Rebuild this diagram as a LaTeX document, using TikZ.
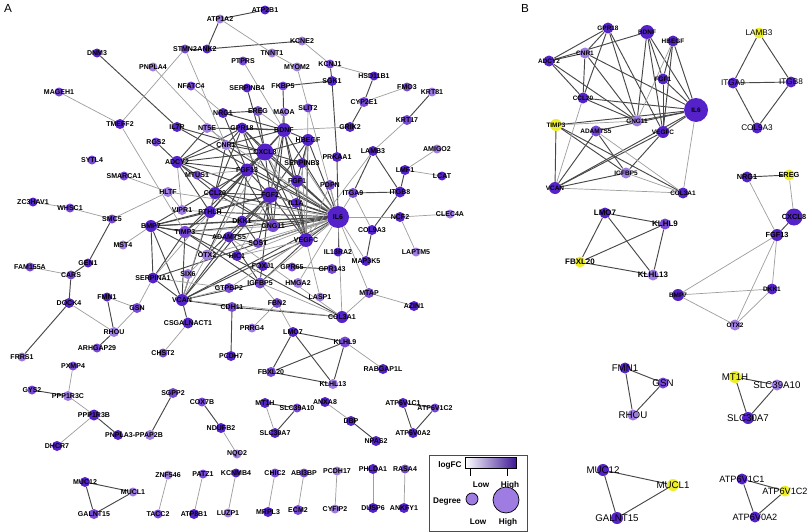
\documentclass[tikz,border=0pt]{standalone}
\usepackage{fontspec}
\setmainfont{Liberation Sans}

\definecolor{degdark}{RGB}{84,34,200}
\definecolor{degmid}{RGB}{118,72,212}
\definecolor{deglight}{RGB}{158,124,226}
\definecolor{upyellow}{RGB}{238,238,40}
\definecolor{edgedark}{RGB}{72,72,72}
\definecolor{edgelight}{RGB}{158,158,158}

\pgfdeclarelayer{paper}
\pgfdeclarelayer{edgelayer}
\pgfdeclarelayer{front}
\pgfsetlayers{paper,edgelayer,main,front}

\tikzset{
  gnode/.style={circle, inner sep=0pt, draw=none},
  labA/.style={font=\bfseries\fontsize{6}{6}\selectfont, inner sep=0pt},
  labcore/.style={font=\bfseries\fontsize{5.5}{5.5}\selectfont, inner sep=0pt},
  labhub/.style={font=\bfseries\fontsize{6.3}{6.3}\selectfont, inner sep=0pt},
  labmid/.style={font=\bfseries\fontsize{6.8}{6.8}\selectfont, inner sep=0pt},
  labint/.style={font=\fontsize{7}{7}\selectfont, inner sep=0pt},
  labbig/.style={font=\fontsize{8.3}{8.3}\selectfont, inner sep=0pt},
  labatp/.style={font=\fontsize{7.8}{7.8}\selectfont, inner sep=0pt},
  hard/.style={draw=edgedark, line width=0.8pt},
  soft/.style={draw=edgelight, line width=0.6pt},
  legtext/.style={font=\bfseries\fontsize{7}{7}\selectfont, inner sep=0pt},
}

% one pixel of the reference
\newcommand{\pxu}{0.03cm}
% gene node: name, text, x, y, size (px), fill, label style
\newcommand{\gene}[7]{%
  \node[gnode, minimum size=#5*\pxu, fill=#6] (#1) at (#3,#4) {};
  \begin{pgfonlayer}{front}\node[#7] (#1-t) at (#1.center) {#2};\end{pgfonlayer}}
\newcommand{\gA}[5]{\gene{#1}{#1}{#2}{#3}{#4}{#5}{labA}}

\begin{document}
\begin{tikzpicture}[x=0.03cm, y=-0.03cm]
\begin{pgfonlayer}{paper}
  \fill[white] (0,0) rectangle (810,532);
\end{pgfonlayer}
\useasboundingbox (0,0) rectangle (810,532);

\node[font=\fontsize{10}{10}\selectfont] (panA) at (8,8) {A};
\node[font=\fontsize{10}{10}\selectfont] (panB) at (525,8) {B};

% ---- panel A ----
\gA{ATP2B1}{265}{10}{9}{degdark}
\gA{ATP1A2}{220}{19}{9}{deglight}
\gA{DNM3}{97}{53}{9}{degdark}
\gA{STMN2}{185}{49}{9}{degmid}
\gA{ANK2}{207}{49}{9}{degdark}
\gA{KCNE2}{302}{41}{9}{deglight}
\gA{TNNT1}{272}{53}{9}{deglight}
\gA{PTPRS}{243}{61}{9}{degmid}
\gA{MYOM2}{297}{67}{9}{deglight}
\gA{KCNJ1}{330}{64}{9}{degmid}
\gA{PNPLA4}{153}{67}{9}{deglight}
\gA{HSD11B1}{374}{76}{9}{degdark}
\gA{SGK1}{332}{81}{10}{degdark}
\gA{NFATC4}{191}{86}{9}{degmid}
\gA{SERPINB4}{247}{88}{9}{degdark}
\gA{FKBP5}{283}{86}{9}{degmid}
\gA{FMO3}{407}{87}{9}{degmid}
\gA{MAGEH1}{59}{92}{9}{degmid}
\gA{KRT81}{432}{92}{9}{deglight}
\gA{CYP2E1}{364}{102}{10}{degmid}
\gA{SLIT2}{308}{108}{9}{degmid}
\gA{EREG}{258}{111}{10}{degmid}
\gA{MAOA}{284}{112}{9}{deglight}
\gA{NRG1}{223}{113}{10}{degdark}
\gA{KRT17}{407}{120}{10}{degmid}
\gA{TMEFF2}{120}{124}{10}{degdark}
\gA{IL7R}{177}{127}{10}{degdark}
\gA{GRIK2}{350}{127}{10}{degdark}
\gA{NT5E}{207}{128}{10}{deglight}
\gA{GPR18}{242}{128}{11}{degdark}
\gA{BDNF}{284}{130}{14}{degdark}
\gA{HBEGF}{308}{140}{12}{degdark}
\gA{RGS2}{156}{142}{9}{degmid}
\gA{CNR1}{226}{145}{10}{deglight}
\gA{AMIGO2}{437}{149}{9}{deglight}
\gA{LAMB3}{373}{151}{10}{degdark}
\gA{CXCL8}{265}{152}{17}{degdark}
\gA{PRKAA1}{337}{157}{10}{degdark}
\gA{SYTL4}{92}{160}{9}{degmid}
\gA{ADCY2}{177}{162}{12}{degdark}
\gA{SERPINB3}{302}{163}{10}{degdark}
\gA{LMF1}{405}{170}{10}{degdark}
\gA{FGF13}{247}{170}{13}{degdark}
\gA{MTUS1}{197}{175}{9}{degmid}
\gA{SMARCA1}{124}{176}{9}{degmid}
\gA{LCAT}{442}{176}{9}{degdark}
\gA{FGF1}{297}{181}{12}{degdark}
\gA{PDPN}{330}{185}{10}{degmid}
\gA{HLTF}{168}{192}{10}{deglight}
\gA{ITGB8}{400}{192}{11}{degdark}
\gA{CCL20}{215}{193}{12}{degdark}
\gA{ITGA9}{353}{193}{10}{degmid}
\gA{FGF2}{270}{195}{16}{degdark}
\gA{ZC3HAV1}{33}{202}{9}{degdark}
\gA{IL1A}{296}{203}{10}{degdark}
\gA{WHSC1}{70}{208}{9}{degmid}
\gA{VIPR1}{182}{210}{10}{deglight}
\gA{PTHLH}{210}{212}{12}{degdark}
\gA{CLEC4A}{450}{214}{9}{deglight}
\gA{NCF2}{400}{217}{10}{degdark}
\gA{IL6}{338}{217}{22}{degdark}
\gA{SMC5}{112}{219}{9}{degmid}
\gA{DKK1}{242}{221}{11}{degdark}
\gA{BMP7}{151}{226}{12}{degdark}
\gA{GNG11}{273}{226}{12}{degmid}
\gA{COL9A3}{372}{230}{10}{degdark}
\gA{TIMP3}{185}{232}{12}{degmid}
\gA{ADAMTS5}{229}{237}{11}{degdark}
\gA{VEGFC}{306}{240}{14}{degdark}
\gA{SOST}{258}{243}{10}{degmid}
\gA{MST4}{123}{245}{9}{deglight}
\gA{IL13RA2}{338}{252}{9}{degdark}
\gA{LAPTM5}{416}{252}{9}{deglight}
\gA{OTX2}{207}{255}{11}{deglight}
\gA{HIC1}{237}{256}{10}{degdark}
\gA{MAP3K5}{366}{261}{10}{degdark}
\gA{GEN1}{88}{263}{9}{degdark}
\gA{FOXJ1}{263}{266}{10}{degdark}
\gA{FAM155A}{30}{267}{9}{degmid}
\gA{GPR65}{292}{267}{9}{degmid}
\gA{GPR143}{332}{269}{10}{degmid}
\gA{SIX6}{188}{274}{10}{deglight}
\gA{CARS}{71}{275}{9}{degmid}
\gA{SERPINA1}{153}{278}{11}{degdark}
\gA{IGFBP5}{260}{283}{11}{degmid}
\gA{HMGA2}{298}{283}{10}{deglight}
\gA{GTPBP2}{229}{288}{10}{degmid}
\gA{MTAP}{369}{293}{10}{degmid}
\gA{FMN1}{107}{297}{9}{degdark}
\gA{LASP1}{320}{297}{9}{deglight}
\gA{VCAN}{182}{300}{12}{degdark}
\gA{DOCK4}{69}{303}{10}{degdark}
\gA{FBN2}{277}{303}{10}{degmid}
\gA{AZIN1}{414}{306}{10}{degdark}
\gA{CDH11}{232}{307}{10}{degmid}
\gA{GSN}{137}{308}{10}{degmid}
\gA{COL3A1}{342}{317}{12}{degdark}
\gA{CSGALNACT1}{188}{323}{11}{degdark}
\gA{PRRG4}{252}{328}{9}{deglight}
\gA{RHOU}{114}{332}{10}{deglight}
\gA{LMO7}{293}{332}{10}{degdark}
\gA{KLHL9}{345}{342}{11}{degmid}
\gA{ARHGAP29}{97}{348}{9}{degmid}
\gA{CHST2}{163}{353}{9}{degmid}
\gA{PCDH7}{231}{356}{10}{degdark}
\gA{FRRS1}{22}{357}{9}{deglight}
\gA{PXMP4}{73}{366}{9}{degmid}
\gA{RABGAP1L}{383}{369}{10}{degdark}
\gA{FBXL20}{271}{372}{10}{degmid}
\gA{KLHL13}{333}{384}{10}{deglight}
\gA{GYS2}{32}{390}{9}{degmid}
\gA{SGPP2}{173}{393}{10}{degmid}
\gA{PPP1R3C}{68}{396}{10}{deglight}
\gA{COX7B}{202}{402}{9}{degmid}
\gA{ANXA8}{325}{402}{10}{degdark}
\gA{MT1H}{265}{403}{10}{degdark}
\gA{ATP6V1C1}{403}{403}{10}{degdark}
\gA{SLC39A10}{297}{408}{9}{degmid}
\gA{ATP6V1C2}{435}{408}{9}{degmid}
\gA{PPP1R3B}{94}{415}{11}{degdark}
\gA{DBP}{351}{421}{10}{degdark}
\gA{NDUFB2}{221}{428}{10}{degdark}
\gA{SLC30A7}{275}{433}{10}{degdark}
\gA{ATP6V0A2}{413}{433}{10}{degdark}
\gA{NPAS2}{376}{441}{10}{degdark}
\gA{DHCR7}{57}{446}{10}{degdark}
\gA{NQO2}{237}{454}{9}{deglight}
\gA{PHLDA1}{373}{469}{10}{degdark}
\gA{RASA4}{405}{469}{9}{degmid}
\gA{PCDH17}{337}{471}{9}{deglight}
\gA{KCNMB4}{236}{473}{9}{degdark}
\gA{CHIC2}{275}{473}{9}{degmid}
\gA{ABI3BP}{304}{473}{9}{degmid}
\gA{PATZ1}{203}{474}{9}{degmid}
\gA{ZNF546}{168}{475}{9}{deglight}
\gA{MUC12}{85}{482}{10}{degdark}
\gA{MUCL1}{133}{492}{9}{deglight}
\gA{CYFIP2}{335}{509}{9}{deglight}
\gA{DUSP6}{373}{508}{10}{degdark}
\gA{ANKFY1}{404}{508}{10}{degdark}
\gA{ECM2}{298}{510}{10}{degmid}
\gA{MRPL3}{268}{512}{10}{degdark}
\gA{LUZP1}{228}{513}{9}{deglight}
\gA{ATP8B1}{194}{514}{10}{degdark}
\gA{GALNT15}{94}{514}{10}{degmid}
\gA{TACC2}{158}{514}{9}{degmid}
\gene{PNPLA3}{}{118}{435}{10}{degdark}{labA}
\gene{PPAP2B}{}{150}{435}{10}{deglight}{labA}
\begin{pgfonlayer}{front}
  \node[labA] (pnplaT) at (134,435) {PNPLA3-PPAP2B};
\end{pgfonlayer}

% ---- panel B ----
\gene{bGPR18}{GPR18}{608}{28}{11}{degdark}{labcore}
\gene{bBDNF}{BDNF}{647}{32}{14}{degdark}{labcore}
\gene{bHBEGF}{HBEGF}{673}{41}{11}{degdark}{labcore}
\gene{bADCY2}{ADCY2}{549}{61}{11}{degdark}{labcore}
\gene{bCNR1}{CNR1}{585}{53}{11}{deglight}{labcore}
\gene{bFGF1}{FGF1}{663}{79}{11}{degdark}{labcore}
\gene{bCCL20}{CCL20}{583}{98}{11}{degdark}{labcore}
\gene{bIL6}{IL6}{696}{110}{24}{degdark}{labcore}
\gene{bGNG11}{GNG11}{637}{121}{11}{deglight}{labcore}
\gene{bTIMP3}{TIMP3}{556}{125}{12}{upyellow}{labcore}
\gene{bADAMTS5}{ADAMTS5}{596}{131}{11}{degmid}{labcore}
\gene{bVEGFC}{VEGFC}{663}{132}{12}{degdark}{labcore}
\gene{bIGFBP5}{IGFBP5}{626}{173}{11}{deglight}{labcore}
\gene{bVCAN}{VCAN}{555}{188}{12}{degdark}{labcore}
\gene{bCOL3A1}{COL3A1}{683}{193}{11}{degdark}{labcore}

\gene{bLAMB3}{LAMB3}{759}{33}{11}{upyellow}{labint}
\gene{bITGA9}{ITGA9}{733}{83}{11}{degdark}{labint}
\gene{bITGB8}{ITGB8}{791}{82}{11}{degdark}{labint}
\gene{bCOL9A3}{COL9A3}{757}{128}{11}{degdark}{labint}

\gene{bNRG1}{NRG1}{747}{177}{11}{degdark}{labhub}
\gene{bEREG}{EREG}{789}{175}{11}{upyellow}{labhub}
\gene{bCXCL8}{CXCL8}{794}{217}{17}{degdark}{labhub}
\gene{bFGF13}{FGF13}{777}{235}{12}{degdark}{labhub}
\gene{bBMP7}{BMP7}{678}{295}{12}{degdark}{labcore}
\gene{bDKK1}{DKK1}{772}{289}{11}{degdark}{labcore}
\gene{bOTX2}{OTX2}{735}{325}{11}{deglight}{labcore}

\gene{bLMO7}{LMO7}{605}{213}{11}{degdark}{labmid}
\gene{bKLHL9}{KLHL9}{665}{224}{11}{degmid}{labmid}
\gene{bFBXL20}{FBXL20}{580}{262}{11}{upyellow}{labmid}
\gene{bKLHL13}{KLHL13}{653}{275}{11}{deglight}{labmid}

\gene{bFMN1}{FMN1}{625}{368}{11}{degdark}{labbig}
\gene{bGSN}{GSN}{663}{383}{11}{degmid}{labbig}
\gene{bRHOU}{RHOU}{633}{415}{11}{deglight}{labbig}

\gene{bMT1H}{MT1H}{735}{377}{12}{upyellow}{labbig}
\gene{bSLC39A10}{SLC39A10}{777}{385}{11}{deglight}{labbig}
\gene{bSLC30A7}{SLC30A7}{748}{418}{12}{degdark}{labbig}

\gene{bMUC12}{MUC12}{603}{470}{12}{degdark}{labbig}
\gene{bMUCL1}{MUCL1}{673}{485}{12}{upyellow}{labbig}
\gene{bGALNT15}{GALNT15}{617}{518}{12}{degdark}{labbig}

\gene{bATP6V1C1}{ATP6V1C1}{742}{479}{11}{degdark}{labatp}
\gene{bATP6V1C2}{ATP6V1C2}{785}{491}{11}{upyellow}{labatp}
\gene{bATP6V0A2}{ATP6V0A2}{755}{517}{11}{degdark}{labatp}

% ---- edges ----
\begin{pgfonlayer}{edgelayer}
\foreach \a/\b in {ATP2B1/ATP1A2, ATP1A2/ANK2, STMN2/ANK2, ANK2/KCNE2, KCNJ1/SGK1,
    SGK1/FKBP5, SGK1/PRKAA1, HSD11B1/CYP2E1, CYP2E1/GRIK2, KRT81/KRT17,
    LAMB3/ITGA9, LAMB3/ITGB8, LMF1/ITGB8, ITGA9/ITGB8, ITGB8/COL9A3,
    COL9A3/MAP3K5, DNM3/IL7R, IL7R/CXCL8, IL7R/IL6, NRG1/EREG, NRG1/BDNF,
    NRG1/FGF13, EREG/CXCL8, SERPINB4/CXCL8, FKBP5/BDNF, PRKAA1/IL6,
    SMC5/GEN1, GEN1/CARS, CARS/DOCK4, DOCK4/FRRS1, FMN1/RHOU, ARHGAP29/RHOU,
    VCAN/CSGALNACT1, CDH11/PCDH7, CDH11/COL3A1, LMO7/KLHL9, LMO7/FBXL20,
    LMO7/KLHL13, KLHL9/FBXL20, KLHL9/KLHL13, FBXL20/KLHL13, GPR65/GPR143,
    IL13RA2/IL6, MT1H/SLC39A10, SLC39A10/SLC30A7, DBP/NPAS2, COX7B/NDUFB2,
    GYS2/PPP1R3C, PPP1R3B/PNPLA3, SGPP2/PPAP2B, MUC12/MUCL1, MUC12/GALNT15,
    MUCL1/GALNT15, ATP6V1C1/ATP6V1C2, ATP6V1C1/ATP6V0A2, ATP6V1C2/ATP6V0A2}
  \draw[hard] (\a) -- (\b);
% core module of A
\foreach \a/\b in {GPR18/ADCY2, GPR18/CNR1, GPR18/CCL20, GPR18/GNG11, GPR18/VEGFC,
    BDNF/FGF1, BDNF/IL6, BDNF/VEGFC, BDNF/GNG11, HBEGF/FGF1, HBEGF/VEGFC,
    HBEGF/IL6, ADCY2/CNR1, ADCY2/CCL20, ADCY2/GNG11, CNR1/CCL20, CNR1/GNG11,
    CNR1/IL6, CCL20/IL6, CCL20/GNG11, FGF1/IL6, FGF1/VEGFC, IL6/GNG11,
    IL6/TIMP3, IL6/VEGFC, IL6/VCAN, IL6/ADAMTS5, TIMP3/VCAN, TIMP3/IGFBP5,
    TIMP3/COL3A1, ADAMTS5/VCAN, ADAMTS5/IGFBP5, VEGFC/VCAN, VEGFC/IGFBP5,
    VCAN/IGFBP5, CXCL8/FGF13, FGF13/BMP7, FGF13/DKK1, FGF13/OTX2, BMP7/DKK1,
    BMP7/OTX2, DKK1/OTX2, IL6/CXCL8, IL6/FGF2, IL6/FGF13, IL6/SERPINA1,
    IL6/BMP7, IL6/PTHLH, IL6/DKK1, IL6/IL1A, IL6/ADCY2, IL6/GPR18,
    CXCL8/BDNF, CXCL8/FGF2, CXCL8/CCL20, CXCL8/HBEGF, CXCL8/SERPINB3,
    CXCL8/VEGFC, CXCL8/FGF1, CXCL8/PTHLH, CXCL8/TIMP3, CXCL8/GPR18,
    CXCL8/CNR1, CXCL8/ADCY2, FGF2/FGF13, FGF2/FGF1, FGF2/BDNF, FGF2/HBEGF,
    FGF2/VEGFC, FGF2/CCL20, FGF2/DKK1, FGF2/BMP7, FGF2/GNG11, FGF2/IGFBP5,
    FGF2/SOST, FGF2/VCAN, FGF2/PTHLH, FGF2/ADAMTS5, BDNF/GPR18, BDNF/CNR1,
    BDNF/NT5E, BDNF/HBEGF, BDNF/FGF13, FGF13/ADCY2, FGF13/PTHLH,
    ADCY2/PTHLH, ADCY2/RGS2, PTHLH/CCL20, PTHLH/TIMP3, PTHLH/BMP7,
    PTHLH/VCAN, BMP7/TIMP3, BMP7/SERPINA1, BMP7/VCAN, SERPINA1/VCAN,
    SERPINA1/TIMP3, DKK1/SOST, SOST/BMP7, NT5E/ADCY2, IL1A/VEGFC,
    SERPINB3/HBEGF, VCAN/CDH11}
  \draw[hard] (\a) -- (\b);
\foreach \a/\b in {ATP1A2/TNNT1, TNNT1/MYOM2, MYOM2/IL6, STMN2/TMEFF2, STMN2/CNR1,
    KCNE2/KCNJ1, KCNJ1/HSD11B1, PTPRS/BDNF, CYP2E1/FMO3, KRT17/LAMB3,
    LAMB3/VEGFC, LMF1/AMIGO2, LMF1/LCAT, ITGA9/COL9A3, ITGA9/IL6,
    NCF2/CLEC4A, NCF2/LAPTM5, NCF2/IL6, MAP3K5/IL6, MTAP/AZIN1, MTAP/COL3A1,
    MTAP/IL6, MAGEH1/TMEFF2, TMEFF2/TIMP3, PNPLA4/CNR1, NFATC4/NRG1,
    MAOA/BDNF, MAOA/FGF2, SLIT2/VEGFC, EREG/BDNF, GRIK2/BDNF, SMARCA1/HLTF,
    HLTF/SMC5, HLTF/IL6, HLTF/VIPR1, ZC3HAV1/WHSC1, WHSC1/SMC5,
    FAM155A/CARS, DOCK4/RHOU, FMN1/GSN, GSN/RHOU, GSN/SERPINA1, MST4/BMP7,
    CSGALNACT1/CHST2, PRRG4/FBN2, FBN2/LMO7, FBN2/IGFBP5, KLHL9/RABGAP1L,
    HMGA2/IL6, LASP1/VEGFC, MT1H/SLC30A7, ANXA8/DBP, NDUFB2/NQO2,
    PXMP4/PPP1R3C, PPP1R3C/PPP1R3B, PPP1R3B/DHCR7, ZNF546/TACC2,
    PATZ1/ATP8B1, KCNMB4/LUZP1, CHIC2/MRPL3, ABI3BP/ECM2, PCDH17/CYFIP2,
    PHLDA1/DUSP6, RASA4/ANKFY1, GTPBP2/IL6, GTPBP2/VCAN, FOXJ1/IL6,
    SIX6/OTX2, IL6/COL3A1, ADAMTS5/COL3A1, VCAN/COL3A1, IGFBP5/COL3A1,
    CCL20/VCAN, TIMP3/GNG11, IL6/PDPN, IL6/SOST, IL6/NT5E, IL6/SERPINB3,
    IL6/HIC1, IL6/IGFBP5, IL6/OTX2, FGF2/HIC1, FGF2/IL1A, IL1A/HBEGF,
    SERPINB3/VEGFC, MTUS1/FGF13, ADCY2/VIPR1, PTHLH/VIPR1, PTHLH/SERPINA1,
    PTHLH/DKK1, SERPINA1/GTPBP2, HIC1/VEGFC, GNG11/DKK1, CXCL8/IL1A,
    CXCL8/VCAN, PDPN/VEGFC}
  \draw[soft] (\a) -- (\b);
% panel B
\foreach \a/\b in {bGPR18/bADCY2, bGPR18/bCNR1, bGPR18/bCCL20, bGPR18/bGNG11,
    bGPR18/bVEGFC, bBDNF/bADCY2, bBDNF/bFGF1, bBDNF/bIL6, bBDNF/bVEGFC,
    bBDNF/bGNG11, bHBEGF/bFGF1, bHBEGF/bVEGFC, bHBEGF/bIL6, bADCY2/bCNR1,
    bADCY2/bCCL20, bADCY2/bGNG11, bCNR1/bCCL20, bCNR1/bGNG11, bCNR1/bIL6,
    bCCL20/bIL6, bCCL20/bGNG11, bFGF1/bIL6, bFGF1/bVEGFC, bIL6/bGNG11,
    bIL6/bTIMP3, bIL6/bVEGFC, bIL6/bVCAN, bIL6/bADAMTS5, bTIMP3/bVCAN,
    bTIMP3/bIGFBP5, bTIMP3/bCOL3A1, bADAMTS5/bVCAN, bADAMTS5/bIGFBP5,
    bVEGFC/bVCAN, bVEGFC/bIGFBP5, bVCAN/bIGFBP5,
    bLAMB3/bITGA9, bLAMB3/bITGB8, bITGA9/bITGB8, bITGA9/bCOL9A3, bITGB8/bCOL9A3,
    bNRG1/bEREG, bCXCL8/bFGF13,
    bLMO7/bKLHL9, bLMO7/bFBXL20, bLMO7/bKLHL13, bKLHL9/bFBXL20,
    bKLHL9/bKLHL13, bFBXL20/bKLHL13,
    bFMN1/bGSN, bFMN1/bRHOU, bGSN/bRHOU,
    bMT1H/bSLC39A10, bMT1H/bSLC30A7, bSLC39A10/bSLC30A7,
    bMUC12/bMUCL1, bMUC12/bGALNT15, bMUCL1/bGALNT15,
    bATP6V1C1/bATP6V1C2, bATP6V1C1/bATP6V0A2, bATP6V1C2/bATP6V0A2}
  \draw[hard] (\a) -- (\b);
\foreach \a/\b in {bCCL20/bVCAN, bIL6/bCOL3A1, bADAMTS5/bCOL3A1, bVCAN/bCOL3A1,
    bIGFBP5/bCOL3A1, bTIMP3/bGNG11, bHBEGF/bGNG11,
    bNRG1/bFGF13, bEREG/bCXCL8, bFGF13/bBMP7, bFGF13/bDKK1, bFGF13/bOTX2,
    bBMP7/bDKK1, bBMP7/bOTX2, bDKK1/bOTX2}
  \draw[soft] (\a) -- (\b);
\end{pgfonlayer}

% ---- legend ----
\node[draw=gray!60!black, line width=0.8pt, inner sep=0pt, anchor=north west,
  minimum width=98*\pxu, minimum height=76*\pxu] (legbox) at (429,455) {};
\shade[left color=white, right color=degdark!75!black, draw=black, line width=0.5pt]
  (465,457) rectangle (516,468);
\draw[line width=0.6pt] (470,468) -- (470,476);
\draw[line width=0.6pt] (507,468) -- (507,476);
\node[legtext] (legfc) at (450,465) {logFC};
\node[legtext] (lowA) at (481,485) {Low};
\node[legtext] (highA) at (510,485) {High};
\node[legtext] (legdeg) at (447,502) {Degree};
\node[circle, draw=black, line width=0.6pt, fill=deglight, inner sep=0pt,
  minimum size=12*\pxu] (degsmall) at (472,499) {};
\node[circle, draw=black, line width=0.6pt, fill=deglight, inner sep=0pt,
  minimum size=26*\pxu] (degbig) at (506,500) {};
\node[legtext] (lowB) at (478,522) {Low};
\node[legtext] (highB) at (508,522) {High};
\end{tikzpicture}
\end{document}
